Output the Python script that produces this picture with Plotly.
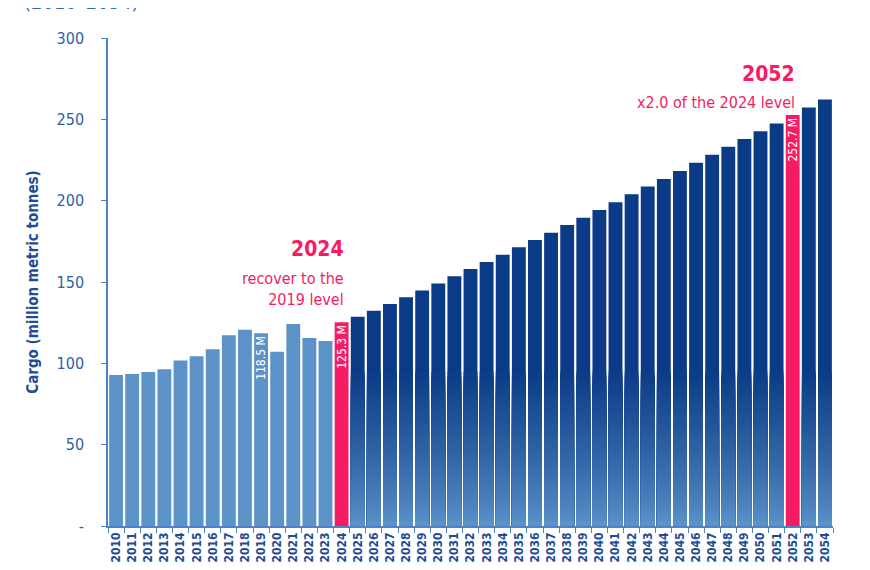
import plotly.graph_objects as go

# cargo throughput, million metric tonnes (actuals 2010-2023, 2024 recovery, projections to 2054)
years = [str(y) for y in range(2010, 2055)]
cargo = [
    92.8, 93.4, 94.6, 96.3, 101.8, 104.3, 108.6, 117.2, 120.7, 118.5,
    107.1, 124.2, 115.6, 113.7, 125.3, 128.7, 132.3, 136.4, 140.7, 144.8,
    149.1, 153.5, 158.0, 162.3, 166.8, 171.3, 175.8, 180.3, 185.0, 189.5,
    194.2, 199.1, 204.0, 208.7, 213.3, 218.2, 223.3, 228.3, 233.2, 237.9,
    242.6, 247.5, 252.7, 257.3, 262.2,
]
highlight_years = ['2024', '2052']
bar_labels = {'2019': '118.5 M', '2024': '125.3 M', '2052': '252.7 M'}

LIGHT = '#5b93c9'
NAVY = '#0b3a86'
PINK = '#f51c63'
AXIS = '#4d82c4'
TEXT_BLUE = '#1f4c96'
FONT = 'DejaVu Sans Condensed, Liberation Sans Narrow, Roboto'

hist = [(y, v) for y, v in zip(years, cargo) if int(y) < 2024]
proj = [(y, v) for y, v in zip(years, cargo) if int(y) > 2024 and y not in highlight_years]
hi = [(y, v) for y, v in zip(years, cargo) if y in highlight_years]

fig = go.Figure()

fig.add_trace(go.Bar(
    x=[y for y, _ in hist], y=[v for _, v in hist], marker_color=LIGHT,
    text=[bar_labels.get(y, '') for y, _ in hist],
))
fig.add_trace(go.Bar(
    x=[y for y, _ in proj], y=[v for _, v in proj], marker_color=NAVY,
))

# fake vertical gradient on the projection bars: overlapping bands from the base up,
# each shorter one lighter, drawn on top of the previous
def mix(c1, c2, t):
    a = [int(c1[i:i + 2], 16) for i in (1, 3, 5)]
    b = [int(c2[i:i + 2], 16) for i in (1, 3, 5)]
    return '#' + ''.join('%02x' % round(a[k] + (b[k] - a[k]) * t) for k in range(3))

grad_top = 95
n_bands = 32
for i in range(n_bands):
    h = grad_top * (1 - i / n_bands)
    t = 1 - (i + 1) / n_bands    # ~1 near the top, -> 0 at the base
    fig.add_trace(go.Bar(
        x=[y for y, _ in proj], y=[min(h, v) for _, v in proj],
        marker_color=mix('#5b93c9', NAVY, t ** 0.8),
    ))

fig.add_trace(go.Bar(
    x=[y for y, _ in hi], y=[v for _, v in hi], marker_color=PINK,
    text=[bar_labels.get(y, '') for y, _ in hi],
))

fig.update_traces(
    marker_line_width=0, textposition='inside', textangle=-90,
    insidetextanchor='end', constraintext='none', hoverinfo='skip', showlegend=False,
    textfont=dict(color='white', size=12, family=FONT),
)

pink_font = dict(color=PINK, family=FONT)
i24 = years.index('2024')
i52 = years.index('2052')
fig.add_annotation(x=i24, y=170, xref='x', yref='y', text='<b>2024</b>', showarrow=False,
                   xanchor='right', xshift=4, font=dict(pink_font, size=21))
fig.add_annotation(x=i24, y=145.5, xref='x', yref='y', text='recover to the<br>2019 level', showarrow=False,
                   xanchor='right', align='right', xshift=4, font=dict(pink_font, size=16))
fig.add_annotation(x=i52, y=278, xref='x', yref='y', text='<b>2052</b>', showarrow=False,
                   xanchor='right', xshift=4, font=dict(pink_font, size=21))
fig.add_annotation(x=i52, y=260.5, xref='x', yref='y', text='x2.0 of the 2024 level', showarrow=False,
                   xanchor='right', xshift=4, font=dict(pink_font, size=16))

# title line cut off at the top of the original image
fig.add_annotation(x=0, y=1, xref='paper', yref='paper', text='(2010–2054)', showarrow=False,
                   xanchor='left', yanchor='bottom', xshift=-86, yshift=22,
                   font=dict(color='#2f6dc0', size=20, family=FONT))

fig.update_layout(
    width=870, height=570,
    margin=dict(l=100, r=45, t=30, b=52),
    paper_bgcolor='white', plot_bgcolor='white',
    barmode='overlay', bargap=0.14,
    font=dict(family=FONT, color=TEXT_BLUE),
    xaxis=dict(
        type='category', categoryorder='array', categoryarray=years,
        range=[-0.5, len(years) - 0.5], automargin=False,
        showline=True, linecolor=AXIS, linewidth=1.5,
        ticks='outside', tickson='boundaries', ticklen=5, tickcolor=AXIS,
        tickangle=-90, showgrid=False,
        tickfont=dict(size=12, color=TEXT_BLUE, weight='bold'),
    ),
    yaxis=dict(
        range=[0, 300], tickvals=[0, 50, 100, 150, 200, 250, 300],
        ticktext=['-', '50', '100', '150', '200', '250', '300'],
        showline=True, linecolor=AXIS, linewidth=1.5, automargin=False,
        ticks='outside', ticklen=5, tickcolor=AXIS, showgrid=False, zeroline=False,
        ticklabelstandoff=14,
        tickfont=dict(size=16, color='#2f5fa8'),
        title=dict(text='<b>Cargo (million metric tonnes)</b>', standoff=14,
                   font=dict(size=15, color=TEXT_BLUE)),
    ),
)

fig.write_html('out.html')
